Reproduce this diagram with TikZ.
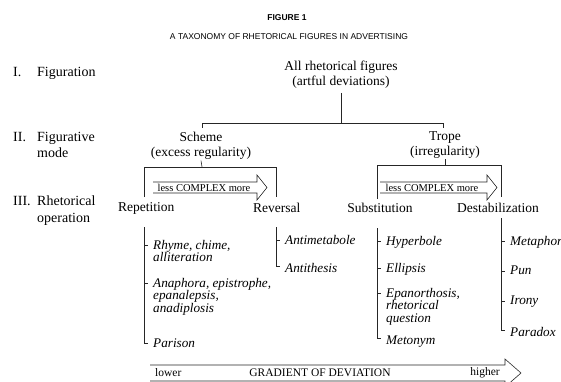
\documentclass[tikz,border=0pt]{standalone}
\usepackage{fontspec}
\setmainfont{Liberation Serif}
\newfontfamily\titlesans{Liberation Sans}
\begin{document}
\begin{tikzpicture}[x=1pt,y=-1pt,
  ln/.style={draw=black!85, line width=0.6pt},
  ttl/.style={font=\titlesans\bfseries\fontsize{8.5}{10}\selectfont, inner sep=0},
  sub/.style={font=\titlesans\fontsize{8.5}{10}\selectfont, inner sep=0},
  mainlbl/.style={font=\fontsize{13.5}{15}\selectfont, inner sep=0, align=center, anchor=north},
  oplbl/.style={font=\fontsize{13.5}{15}\selectfont, inner sep=0, anchor=north west},
  lvl/.style={font=\fontsize{14}{16.5}\selectfont, inner sep=0, align=left, anchor=north west},
  item/.style={font=\fontsize{13.2}{12.5}\selectfont\itshape, inner sep=0, align=left, anchor=north west},
  cplx/.style={font=\fontsize{10.5}{12}\selectfont, inner sep=0},
  grad/.style={font=\fontsize{11.5}{13}\selectfont, inner sep=0}
]
\useasboundingbox (0,0) rectangle (561,382);

% titles
\node[ttl] (fig) at (287,18) {FIGURE 1};
\node[sub] (tax) at (289,37) {A TAXONOMY OF RHETORICAL FIGURES IN ADVERTISING};

% level labels
\node[lvl] (n1) at (13,67) {I.};
\node[lvl] (l1) at (37,67) {Figuration};
\node[lvl] (n2) at (13,132) {II.};
\node[lvl] (l2) at (37,132) {Figurative\\mode};
\node[lvl] (n3) at (13,196) {III.};
\node[lvl] (l3) at (37,196) {Rhetorical\\operation};

% tree
\node[mainlbl] (root) at (341,61) {All rhetorical figures\\(artful deviations)};
\node[mainlbl] (scheme) at (201,132) {Scheme\\(excess regularity)};
\node[mainlbl] (trope) at (445,131) {Trope\\(irregularity)};

\coordinate (j) at (341,123);
\coordinate (jl) at (202,123);
\coordinate (jr) at (443,123);
\draw[ln] (root.south) ++(0,4) -- (j);
\draw[ln] (jl) ++(0,5) -- (jl) -- (jr) -- ++(0,5);

% scheme box
\coordinate (sb) at (202,167);
\draw[ln] (scheme.south) ++(0,1) -- (sb);
\draw[ln] (144,197) -- (144,167) -- (276,167) -- (276,197);
% trope box
\coordinate (tb) at (445,165);
\draw[ln] (trope.south) ++(0,1) -- (tb);
\draw[ln] (377,199) -- (377,165) -- (501,165) -- (501,197);

% complexity arrows
\draw[ln] (153,182) -- (257,182) -- (257,175) -- (267,187.5) -- (257,200) -- (257,193) -- (153,193);
\node[cplx] (c1) at (204,187.5) {less COMPLEX more};
\draw[ln] (380,182) -- (487,182) -- (487,175) -- (497,187.5) -- (487,200) -- (487,193) -- (380,193);
\node[cplx] (c2) at (432,187.5) {less COMPLEX more};

% operations
\node[oplbl] (rep) at (118,202) {Repetition};
\node[oplbl] (rev) at (253,203) {Reversal};
\node[oplbl, anchor=north] (subst) at (380,203) {Substitution};
\node[oplbl, anchor=north] (dest) at (498,203) {Destabilization};

% repetition items
\node[item] (rhyme) at (153,240) {Rhyme, chime,\\alliteration};
\node[item] (ana) at (153,278) {Anaphora, epistrophe,\\epanalepsis,\\anadiplosis};
\node[item] (par) at (153,339) {Parison};
\draw[ln] (144,227) -- (144,343) -- ++(4,0);
\draw[ln] (144,245) -- ++(4,0);
\draw[ln] (144,283) -- ++(4,0);

% reversal items
\node[item] (antim) at (285,235) {Antimetabole};
\node[item] (antith) at (285,263) {Antithesis};
\draw[ln] (276,227) -- (276,266) -- ++(4,0);
\draw[ln] (276,240) -- ++(4,0);

% substitution items
\node[item] (hyp) at (386,236) {Hyperbole};
\node[item] (ell) at (386,263) {Ellipsis};
\node[item] (epa) at (386,288) {Epanorthosis,\\rhetorical\\question};
\node[item] (met) at (386,336) {Metonym};
\draw[ln] (377,228) -- (377,338) -- ++(4,0);
\draw[ln] (377,241) -- ++(4,0);
\draw[ln] (377,268) -- ++(4,0);
\draw[ln] (377,293) -- ++(4,0);

% destabilization items
\node[item] (meta) at (510,236) {Metaphor};
\node[item] (pun) at (510,266) {Pun};
\node[item] (iro) at (510,296) {Irony};
\node[item] (para) at (510,327) {Paradox};
\draw[ln] (501,218) -- (501,330) -- ++(4,0);
\draw[ln] (501,241) -- ++(4,0);
\draw[ln] (501,271) -- ++(4,0);
\draw[ln] (501,301) -- ++(4,0);

% gradient arrow
\draw[ln] (150,365) -- (505,365) -- (505,359) -- (521,373) -- (505,387) -- (505,381) -- (150,381);
\node[grad, anchor=west] (low) at (155,373) {lower};
\node[grad] (gr) at (320,373) {GRADIENT OF DEVIATION};
\node[grad, anchor=east] (high) at (500,373) {higher};
\end{tikzpicture}
\end{document}
